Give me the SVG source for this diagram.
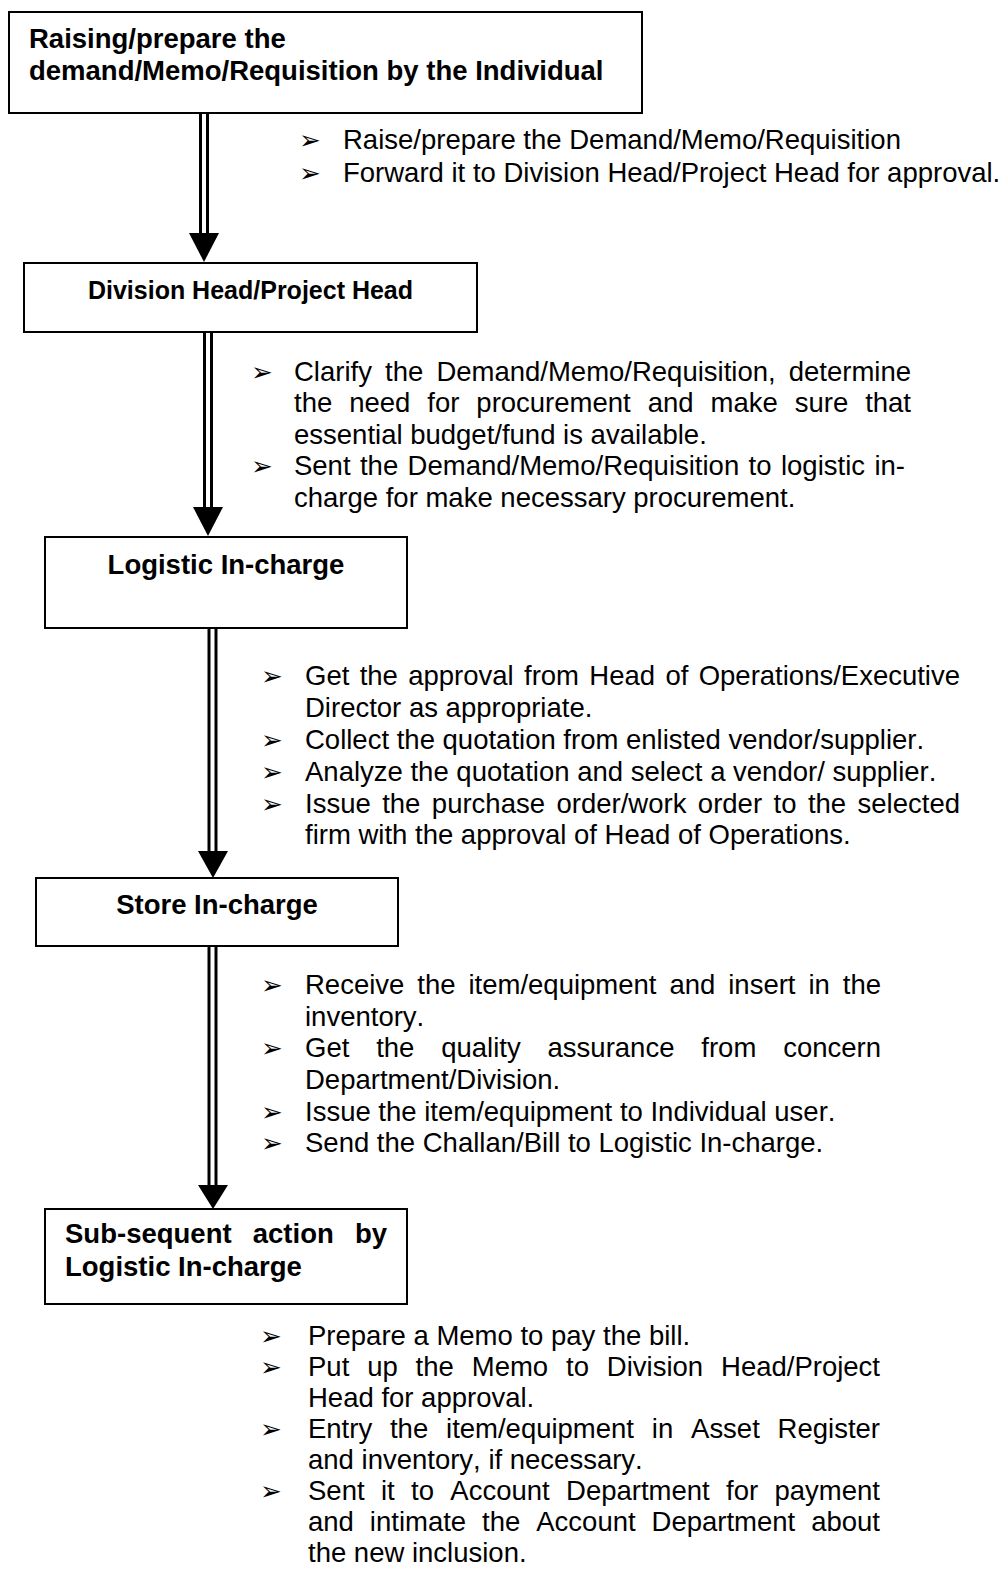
<svg xmlns="http://www.w3.org/2000/svg" width="1005" height="1569" viewBox="0 0 1005 1569">
<style>
.box{fill:#fff;stroke:#000;stroke-width:2}
.t{font-family:"Liberation Sans",Arial,sans-serif;font-size:27.5px;fill:#000;font-kerning:none}
.b{font-weight:bold}
.b25{font-weight:bold;font-size:25px}
.bul{font-family:"DejaVu Sans",sans-serif;font-size:26px;fill:#000}
.ln{stroke:#000;stroke-width:3;fill:none}
.hd{fill:#000}
</style>
<rect width="1005" height="1569" fill="#fff"/>
<g id="connectors">
  <line class="ln" x1="200.5" y1="113" x2="200.5" y2="234"/>
  <line class="ln" x1="207.5" y1="113" x2="207.5" y2="234"/>
  <polygon class="hd" points="189,233 219,233 204,262"/>
  <line class="ln" x1="204.5" y1="332" x2="204.5" y2="508"/>
  <line class="ln" x1="211.5" y1="332" x2="211.5" y2="508"/>
  <polygon class="hd" points="193,507 223,507 208,536"/>
  <line class="ln" x1="209" y1="628" x2="209" y2="852"/>
  <line class="ln" x1="216" y1="628" x2="216" y2="852"/>
  <polygon class="hd" points="198,851 228,851 213,878"/>
  <line class="ln" x1="209" y1="946" x2="209" y2="1186"/>
  <line class="ln" x1="216" y1="946" x2="216" y2="1186"/>
  <polygon class="hd" points="198,1185 228,1185 213,1209"/>
</g>
<g id="node-raising">
  <rect class="box" x="9" y="12" width="633" height="101"/>
  <text class="t b" x="29" y="48">Raising/prepare the</text>
  <text class="t b" x="29" y="80">demand/Memo/Requisition by the Individual</text>
</g>
<g id="notes-raising">
  <text class="bul" x="299" y="149">➢</text>
  <text class="t" x="343" y="149">Raise/prepare the Demand/Memo/Requisition</text>
  <text class="bul" x="299" y="182">➢</text>
  <text class="t" x="343" y="182">Forward it to Division Head/Project Head for approval.</text>
</g>
<g id="node-division-head">
  <rect class="box" x="24" y="263" width="453" height="69"/>
  <text class="t b25" x="250.5" y="299" text-anchor="middle">Division Head/Project Head</text>
</g>
<g id="notes-division-head">
  <text class="bul" x="251" y="380.5">➢</text>
  <text class="t" x="294" y="380.5" word-spacing="5.5" textLength="617" lengthAdjust="spacing">Clarify the Demand/Memo/Requisition, determine</text>
  <text class="t" x="294" y="412" word-spacing="9.3" textLength="617" lengthAdjust="spacing">the need for procurement and make sure that</text>
  <text class="t" x="294" y="443.5">essential budget/fund is available.</text>
  <text class="bul" x="251" y="475">➢</text>
  <text class="t" x="294" y="475" word-spacing="1.8" textLength="611" lengthAdjust="spacing">Sent the Demand/Memo/Requisition to logistic in-</text>
  <text class="t" x="294" y="507">charge for make necessary procurement.</text>
</g>
<g id="node-logistic">
  <rect class="box" x="45" y="537" width="362" height="91"/>
  <text class="t b" x="226" y="574" text-anchor="middle">Logistic In-charge</text>
</g>
<g id="notes-logistic">
  <text class="bul" x="261" y="685">➢</text>
  <text class="t" x="305" y="685" word-spacing="2.7" textLength="655" lengthAdjust="spacing">Get the approval from Head of Operations/Executive</text>
  <text class="t" x="305" y="717">Director as appropriate.</text>
  <text class="bul" x="261" y="748.5">➢</text>
  <text class="t" x="305" y="748.5">Collect the quotation from enlisted vendor/supplier.</text>
  <text class="bul" x="261" y="780.5">➢</text>
  <text class="t" x="305" y="780.5">Analyze the quotation and select a vendor/ supplier.</text>
  <text class="bul" x="261" y="812.5">➢</text>
  <text class="t" x="305" y="812.5" word-spacing="3.8" textLength="655" lengthAdjust="spacing">Issue the purchase order/work order to the selected</text>
  <text class="t" x="305" y="844">firm with the approval of Head of Operations.</text>
</g>
<g id="node-store">
  <rect class="box" x="36" y="878" width="362" height="68"/>
  <text class="t b" x="217" y="914" text-anchor="middle">Store In-charge</text>
</g>
<g id="notes-store">
  <text class="bul" x="261" y="994">➢</text>
  <text class="t" x="305" y="994" word-spacing="5.3" textLength="576" lengthAdjust="spacing">Receive the item/equipment and insert in the</text>
  <text class="t" x="305" y="1026">inventory.</text>
  <text class="bul" x="261" y="1057">➢</text>
  <text class="t" x="305" y="1057" word-spacing="19.2" textLength="576" lengthAdjust="spacing">Get the quality assurance from concern</text>
  <text class="t" x="305" y="1089">Department/Division.</text>
  <text class="bul" x="261" y="1121">➢</text>
  <text class="t" x="305" y="1121">Issue the item/equipment to Individual user.</text>
  <text class="bul" x="261" y="1152">➢</text>
  <text class="t" x="305" y="1152">Send the Challan/Bill to Logistic In-charge.</text>
</g>
<g id="node-subsequent">
  <rect class="box" x="45" y="1209" width="362" height="95"/>
  <text class="t b" x="65" y="1243" word-spacing="13.5" textLength="322" lengthAdjust="spacing">Sub-sequent action by</text>
  <text class="t b" x="65" y="1276">Logistic In-charge</text>
</g>
<g id="notes-subsequent">
  <text class="bul" x="260" y="1345">➢</text>
  <text class="t" x="308" y="1345">Prepare a Memo to pay the bill.</text>
  <text class="bul" x="260" y="1376">➢</text>
  <text class="t" x="308" y="1376" word-spacing="10.25" textLength="572" lengthAdjust="spacing">Put up the Memo to Division Head/Project</text>
  <text class="t" x="308" y="1407">Head for approval.</text>
  <text class="bul" x="260" y="1438">➢</text>
  <text class="t" x="308" y="1438" word-spacing="10.2" textLength="572" lengthAdjust="spacing">Entry the item/equipment in Asset Register</text>
  <text class="t" x="308" y="1469">and inventory, if necessary.</text>
  <text class="bul" x="260" y="1500">➢</text>
  <text class="t" x="308" y="1500" word-spacing="8.7" textLength="572" lengthAdjust="spacing">Sent it to Account Department for payment</text>
  <text class="t" x="308" y="1531" word-spacing="8.3" textLength="572" lengthAdjust="spacing">and intimate the Account Department about</text>
  <text class="t" x="308" y="1562">the new inclusion.</text>
</g>
</svg>
